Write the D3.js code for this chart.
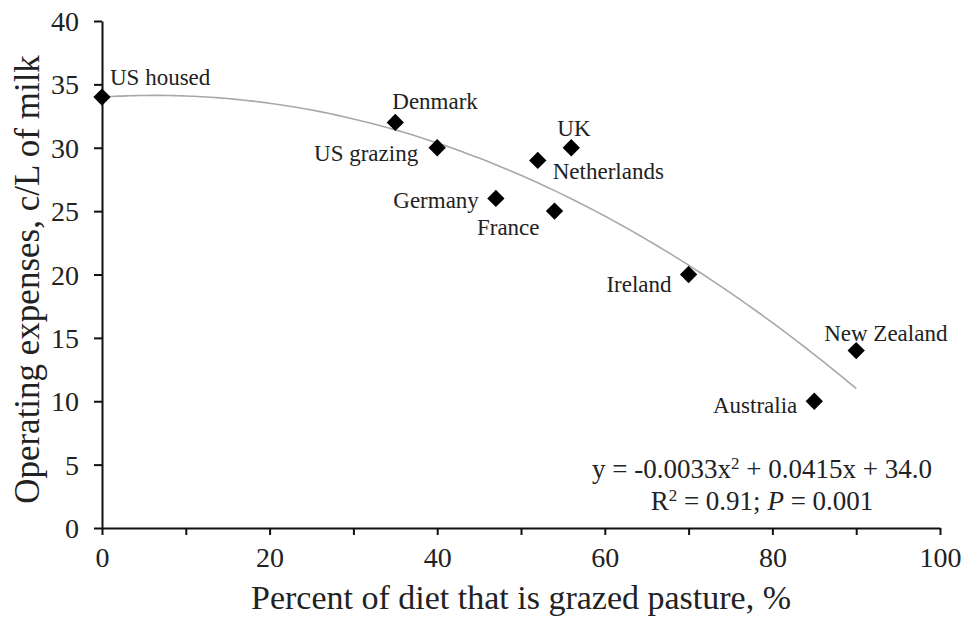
<!DOCTYPE html>
<html>
<head>
<meta charset="utf-8">
<script src="https://cdn.jsdelivr.net/npm/d3@7"></script>
<style>
  html, body { margin: 0; padding: 0; background: #fff; }
  svg text { font-family: "Liberation Serif", "DejaVu Serif", serif; fill: #222; }
</style>
</head>
<body>
<svg id="chart" width="965" height="622"></svg>
<script>
// data
const countries = ['US housed', 'Denmark', 'US grazing', 'Netherlands', 'UK', 'Germany', 'France', 'Ireland', 'New Zealand', 'Australia'];
const pasturePct = [0, 35, 40, 52, 56, 47, 54, 70, 90, 85];
const expenses = [34, 32, 30, 29, 30, 26, 25, 20, 14, 10];
const fitCoef = [-0.0033, 0.0415, 34.0]; // quadratic fit printed on the chart
const fitRange = [0, 90];
const xTicks = [0, 10, 20, 30, 40, 50, 60, 70, 80, 90, 100];
const xTickLabels = [0, 20, 40, 60, 80, 100];
const yTicks = [0, 5, 10, 15, 20, 25, 30, 35, 40];

// where each label sits relative to its marker
const labelPlace = {
  'US housed':   { dx: 8,   dy: -20, anchor: 'start' },
  'Denmark':     { dx: -3,  dy: -21, anchor: 'start' },
  'US grazing':  { dx: -19, dy: 5,   anchor: 'end' },
  'Netherlands': { dx: 15,  dy: 11,  anchor: 'start' },
  'UK':          { dx: -14, dy: -20, anchor: 'start' },
  'Germany':     { dx: -17, dy: 1,   anchor: 'end' },
  'France':      { dx: -15, dy: 16,  anchor: 'end' },
  'Ireland':     { dx: -17, dy: 9,   anchor: 'end' },
  'New Zealand': { dx: -32, dy: -18, anchor: 'start' },
  'Australia':   { dx: -17, dy: 4,   anchor: 'end' }
};

const svg = d3.select('#chart');
const margin = { left: 102, right: 25, top: 21, bottom: 94 };
const width = 965, height = 622;

const x = d3.scaleLinear().domain([0, 100]).range([margin.left, width - margin.right]);
const y = d3.scaleLinear().domain([0, 40]).range([height - margin.bottom, margin.top]);

// axes
const xAxis = svg.append('g')
  .attr('transform', `translate(0,${y(0)})`)
  .call(d3.axisBottom(x).tickValues(xTicks).tickSize(7).tickSizeOuter(0)
    .tickFormat(d => xTickLabels.includes(d) ? d : ''));
const yAxis = svg.append('g')
  .attr('transform', `translate(${x(0)},0)`)
  .call(d3.axisLeft(y).tickValues(yTicks).tickSize(8).tickSizeOuter(0));

[xAxis, yAxis].forEach(g => {
  g.select('.domain').attr('stroke', '#111').attr('stroke-width', 2);
  g.selectAll('.tick line').attr('stroke', '#111').attr('stroke-width', 2);
  g.selectAll('.tick text')
    .style('font-family', '"Liberation Serif", serif')
    .style('font-size', '28px')
    .attr('fill', '#222');
});
xAxis.selectAll('.tick text').attr('dy', '1.05em');
yAxis.selectAll('.tick text').attr('x', -23).attr('dy', '0.34em');

// fitted curve
const fitPts = d3.range(fitRange[0], fitRange[1] + 0.5, 1).map(v => [v, fitCoef[0] * v * v + fitCoef[1] * v + fitCoef[2]]);
svg.append('path')
  .datum(fitPts)
  .attr('fill', 'none')
  .attr('stroke', '#a8a8a8')
  .attr('stroke-width', 1.6)
  .attr('d', d3.line().x(d => x(d[0])).y(d => y(d[1])).curve(d3.curveMonotoneX));

// markers
const points = countries.map((c, i) => ({ name: c, px: pasturePct[i], ex: expenses[i] }));
svg.append('g').selectAll('path')
  .data(points)
  .enter().append('path')
  .attr('d', d3.symbol().type(d3.symbolSquare).size(150))
  .attr('transform', d => `translate(${x(d.px)},${y(d.ex)}) rotate(45)`)
  .attr('fill', '#000');

// marker labels
svg.append('g').selectAll('text')
  .data(points)
  .enter().append('text')
  .attr('x', d => x(d.px) + labelPlace[d.name].dx)
  .attr('y', d => y(d.ex) + labelPlace[d.name].dy)
  .attr('dy', '0.35em')
  .attr('text-anchor', d => labelPlace[d.name].anchor)
  .style('font-size', '23px')
  .text(d => d.name);

// equation
const eq = svg.append('text')
  .attr('x', 762).attr('y', 478)
  .attr('text-anchor', 'middle')
  .style('font-size', '27px');
eq.append('tspan').text('y = -0.0033x');
eq.append('tspan').attr('dy', -9).style('font-size', '17px').text('2');
eq.append('tspan').attr('dy', 9).text(' + 0.0415x + 34.0');

const r2 = svg.append('text')
  .attr('x', 762).attr('y', 510)
  .attr('text-anchor', 'middle')
  .style('font-size', '27px');
r2.append('tspan').text('R');
r2.append('tspan').attr('dy', -9).style('font-size', '17px').text('2');
r2.append('tspan').attr('dy', 9).text(' = 0.91; ');
r2.append('tspan').style('font-style', 'italic').text('P');
r2.append('tspan').text(' = 0.001');

// axis titles
svg.append('text')
  .attr('x', x(50)).attr('y', 609)
  .attr('text-anchor', 'middle')
  .style('font-size', '34px')
  .text('Percent of diet that is grazed pasture, %');

svg.append('text')
  .attr('transform', `translate(39,${y(20) + 5}) rotate(-90)`)
  .attr('text-anchor', 'middle')
  .style('font-size', '35px')
  .text('Operating expenses, c/L of milk');
</script>
</body>
</html>
